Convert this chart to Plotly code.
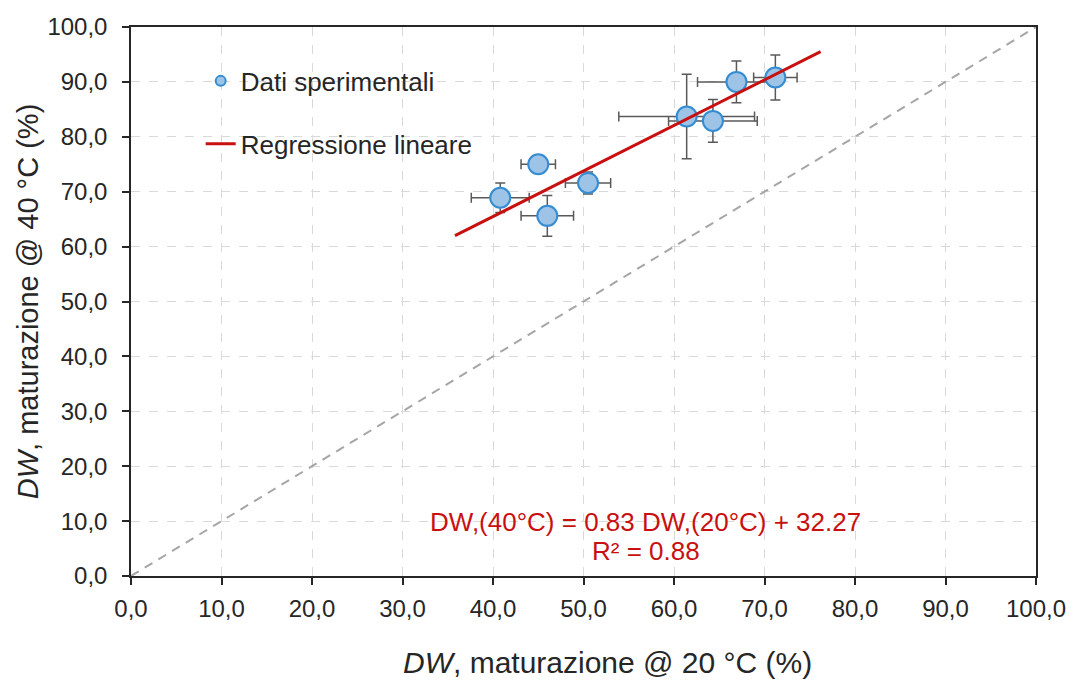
import plotly.graph_objects as go

# Experimental data (DW at 20 °C vs DW at 40 °C)
dw20 = [40.8, 45.0, 46.0, 50.5, 61.4, 64.3, 66.9, 71.2]
dw40 = [68.9, 75.0, 65.6, 71.6, 83.7, 82.9, 90.0, 90.8]
err20 = [3.2, 1.9, 2.9, 2.5, 7.5, 4.9, 4.3, 2.4]
err40 = [2.7, 0.8, 3.7, 2.0, 7.7, 3.9, 3.8, 4.1]

# Regression line endpoints
reg_x = [35.8, 76.2]
reg_y = [62.0, 95.5]

# Bisector
diag_x = [0, 100]
diag_y = [0, 100]

tick_vals = [0, 10, 20, 30, 40, 50, 60, 70, 80, 90, 100]

eq_lines = ["DW,(40°C) = 0.83 DW,(20°C) + 32.27", "R² = 0.88"]
x_title = "<i>DW</i>, maturazione @ 20 °C (%)"
y_title = "<i>DW</i>, maturazione @ 40 °C (%)"

FONT = "Liberation Sans, Arial, sans-serif"
MARKER_FILL = "rgb(157,195,230)"
MARKER_LINE = "rgb(52,140,210)"
RED = "rgb(200,16,16)"

fig = go.Figure()

fig.add_trace(go.Scatter(
    x=diag_x, y=diag_y, mode="lines",
    line=dict(color="rgb(166,166,166)", width=2, dash="9px,7px"),
    showlegend=False, hoverinfo="skip"))

fig.add_trace(go.Scatter(
    x=dw20, y=dw40, mode="markers",
    marker=dict(size=20, color=MARKER_FILL, line=dict(color=MARKER_LINE, width=2)),
    error_x=dict(type="data", array=err20, color="rgb(89,89,89)", thickness=1.5, width=5),
    error_y=dict(type="data", array=err40, color="rgb(89,89,89)", thickness=1.5, width=5),
    showlegend=False))

fig.add_trace(go.Scatter(
    x=reg_x, y=reg_y, mode="lines",
    line=dict(color=RED, width=3), showlegend=False))

# Legend entries
fig.add_trace(go.Scatter(
    x=[None], y=[None], mode="markers", name="Dati sperimentali",
    marker=dict(size=10, color=MARKER_FILL, line=dict(color=MARKER_LINE, width=2)),
    legendgroup="a"))
fig.add_trace(go.Scatter(
    x=[None], y=[None], mode="lines", name="Regressione lineare",
    line=dict(color=RED, width=3), legendgroup="b"))

for txt, yy in zip(eq_lines, [9.8, 4.6]):
    fig.add_annotation(
        x=56.9, y=yy, xref="x", yref="y", showarrow=False, text=txt,
        font=dict(family=FONT, size=26, color=RED), align="center")

# x-axis title (slightly right of centre, as in the reference)
fig.add_annotation(
    x=0.5265, y=-0.157, xref="paper", yref="paper", showarrow=False,
    xanchor="center", yanchor="middle", text=x_title,
    font=dict(family=FONT, size=30, color="rgb(38,38,38)"))

axis_common = dict(
    range=[0, 100], tickvals=tick_vals, tickformat=".1f",
    showline=True, linecolor="rgb(38,38,38)", linewidth=1.5, mirror=True,
    ticks="outside", ticklen=7, tickwidth=1.5, tickcolor="rgb(38,38,38)",
    showgrid=True, gridcolor="rgb(217,217,217)", gridwidth=1, griddash="dash",
    zeroline=False, automargin=False,
    tickfont=dict(family=FONT, size=24, color="rgb(38,38,38)"),
)

# the page body has an 8px default margin, so the figure is 8px smaller
fig.update_layout(
    width=1067, height=672,
    margin=dict(l=123, r=39, t=19, b=104),
    paper_bgcolor="white", plot_bgcolor="white",
    separators=",.",
    font=dict(family=FONT, color="rgb(38,38,38)"),
    xaxis=dict(**axis_common, ticklabelstandoff=3),
    yaxis=dict(**axis_common, ticklabelstandoff=10,
               title=dict(text=y_title, font=dict(family=FONT, size=29), standoff=0)),
    legend=dict(x=0.077, y=0.9445, xanchor="left", yanchor="top",
                bgcolor="rgba(0,0,0,0)", tracegroupgap=26,
                font=dict(family=FONT, size=26, color="rgb(38,38,38)")),
)

fig.write_html("out.html")
